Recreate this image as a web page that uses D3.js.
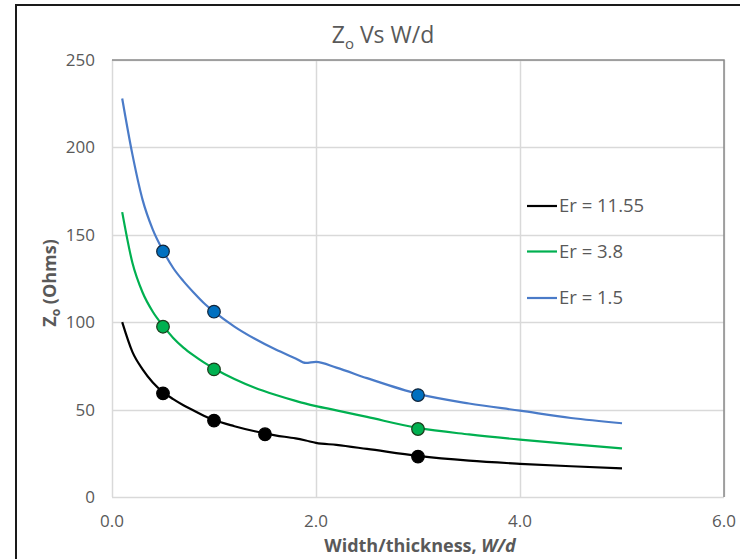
<!DOCTYPE html>
<html>
<head>
<meta charset="utf-8">
<script src="https://cdn.jsdelivr.net/npm/d3@7"></script>
<style>
  html, body { margin: 0; padding: 0; background: #fff; }
  svg { display: block; font-family: "Open Sans", sans-serif; }
  .tick-label { fill: #595959; font-size: 17px; }
  .axis-title { fill: #595959; font-size: 18px; font-weight: bold; }
  .chart-title { fill: #595959; font-size: 23px; }
  .legend-label { fill: #595959; font-size: 18.5px; }
</style>
</head>
<body>
<div id="chart"></div>
<script>
// W/d values the curves were sampled at
const widthRatios = [0.1, 0.2, 0.3, 0.4, 0.5, 0.6, 0.7, 0.8, 0.9, 1.0, 1.2, 1.4, 1.6, 1.8, 1.9, 2.0, 2.2, 2.5, 3.0, 3.5, 4.0, 4.5, 5.0];

// Zo (Ohms)
const zoEr1155 = [100, 83, 73, 65.5, 60, 56, 52.5, 49.5, 46.5, 44, 40.5, 37.6, 35.3, 33.5, 32.3, 31, 29.8, 27.5, 23.5, 20.8, 19, 17.6, 16.4];
const zoEr38   = [163, 134, 117, 106, 98, 91, 85.5, 81, 77, 73.5, 67.5, 62.5, 58.5, 55, 53.4, 52, 49.6, 45.8, 39.5, 35.8, 32.8, 30.2, 27.8];
const zoEr15   = [228, 196, 170, 153, 141, 131, 123.5, 117, 111, 106, 97.5, 90.5, 84.5, 79.3, 76.7, 77.3, 74, 68, 59, 53.5, 49.4, 45.2, 42.2];

// marker points (W/d, Zo)
const ptsEr1155 = [[0.5, 59.3], [1.0, 43.7], [1.5, 35.9], [3.0, 23.1]];
const ptsEr38   = [[0.5, 97.4], [1.0, 73.0], [3.0, 38.9]];
const ptsEr15   = [[0.5, 140.5], [1.0, 106], [3.0, 58.3]];

const seriesNames = ['Er = 11.55', 'Er = 3.8', 'Er = 1.5'];
const xTicks = [0, 2, 4, 6];
const yTicks = [0, 50, 100, 150, 200, 250];

const series = [
  { name: seriesNames[0], values: zoEr1155, points: ptsEr1155, line: '#000000', fill: '#000000', stroke: '#000000' },
  { name: seriesNames[1], values: zoEr38,   points: ptsEr38,   line: '#00b050', fill: '#00b050', stroke: '#1a3a1a' },
  { name: seriesNames[2], values: zoEr15,   points: ptsEr15,   line: '#4a7bc8', fill: '#0070c0', stroke: '#10243a' }
];

const width = 740, height = 559;
const svg = d3.select('#chart').append('svg')
  .attr('width', width).attr('height', height)
  .attr('viewBox', `0 0 ${width} ${height}`);

// outer chart frame (runs past the right and bottom of the shot)
svg.append('rect')
  .attr('x', 16).attr('y', 5).attr('width', 760).attr('height', 600)
  .attr('fill', '#fff').attr('stroke', '#1a1a1a').attr('stroke-width', 2);

const x = d3.scaleLinear().domain([0, 6]).range([112, 724]);
const y = d3.scaleLinear().domain([0, 250]).range([497, 60]);

// gridlines
const grid = svg.append('g').attr('class', 'grid');
grid.selectAll('line.h').data(yTicks).join('line')
  .attr('class', 'h')
  .attr('x1', x(0)).attr('x2', x(6))
  .attr('y1', d => Math.round(y(d)) + 0.5).attr('y2', d => Math.round(y(d)) + 0.5)
  .attr('stroke', '#d9d9d9').attr('stroke-width', 1.5);
grid.selectAll('line.v').data(xTicks).join('line')
  .attr('class', 'v')
  .attr('y1', y(0)).attr('y2', y(250))
  .attr('x1', d => Math.round(x(d)) + 0.5).attr('x2', d => Math.round(x(d)) + 0.5)
  .attr('stroke', '#d9d9d9').attr('stroke-width', 1.5);

// plot area edge: darker on top and right
svg.append('path')
  .attr('d', `M${x(0)},${y(250)}H${x(6)}V${y(0)}`)
  .attr('fill', 'none').attr('stroke', '#8a8a8a').attr('stroke-width', 1.5);

// tick labels
svg.append('g').selectAll('text').data(yTicks).join('text')
  .attr('class', 'tick-label')
  .attr('x', 95).attr('y', d => y(d))
  .attr('dy', '0.35em').attr('text-anchor', 'end')
  .text(d => d);
svg.append('g').selectAll('text').data(xTicks).join('text')
  .attr('class', 'tick-label')
  .attr('x', d => x(d)).attr('y', 521)
  .attr('dy', '0.35em').attr('text-anchor', 'middle')
  .text(d3.format('.1f'));

// title
const title = svg.append('text').attr('class', 'chart-title')
  .attr('x', 383).attr('y', 43).attr('text-anchor', 'middle');
title.append('tspan').text('Z');
title.append('tspan').attr('font-size', '15px').attr('dy', 6).text('o');
title.append('tspan').attr('dy', -6).text(' Vs W/d');

// axis titles
const xTitle = svg.append('text').attr('class', 'axis-title')
  .attr('x', 420).attr('y', 552).attr('text-anchor', 'middle');
xTitle.append('tspan').text('Width/thickness, ');
xTitle.append('tspan').attr('font-style', 'italic').text('W/d');

const yTitle = svg.append('text').attr('class', 'axis-title')
  .attr('transform', 'translate(56,283) rotate(-90)')
  .attr('text-anchor', 'middle');
yTitle.append('tspan').text('Z');
yTitle.append('tspan').attr('font-size', '12px').attr('dy', 4).text('o');
yTitle.append('tspan').attr('dy', -4).text(' (Ohms)');

// curves
const line = d3.line()
  .x((d, i) => x(widthRatios[i]))
  .y(d => y(d))
  .curve(d3.curveMonotoneX);

svg.append('g').selectAll('path').data(series).join('path')
  .attr('d', d => line(d.values))
  .attr('fill', 'none')
  .attr('stroke', d => d.line)
  .attr('stroke-width', 2.2)
  .attr('stroke-linejoin', 'round');

// markers
series.forEach(s => {
  svg.append('g').selectAll('circle').data(s.points).join('circle')
    .attr('cx', d => x(d[0])).attr('cy', d => y(d[1]))
    .attr('r', 6.3)
    .attr('fill', s.fill)
    .attr('stroke', s.stroke).attr('stroke-width', 1.2);
});

// legend
const legendY = [206, 251.5, 298];
const legend = svg.append('g').selectAll('g').data(series).join('g')
  .attr('transform', (d, i) => `translate(527,${legendY[i]})`);
legend.append('line')
  .attr('x1', 0).attr('x2', 30).attr('y1', 0).attr('y2', 0)
  .attr('stroke', d => d.line).attr('stroke-width', 2.2);
legend.append('text').attr('class', 'legend-label')
  .attr('x', 32).attr('dy', '0.35em')
  .text(d => d.name);
</script>
</body>
</html>
